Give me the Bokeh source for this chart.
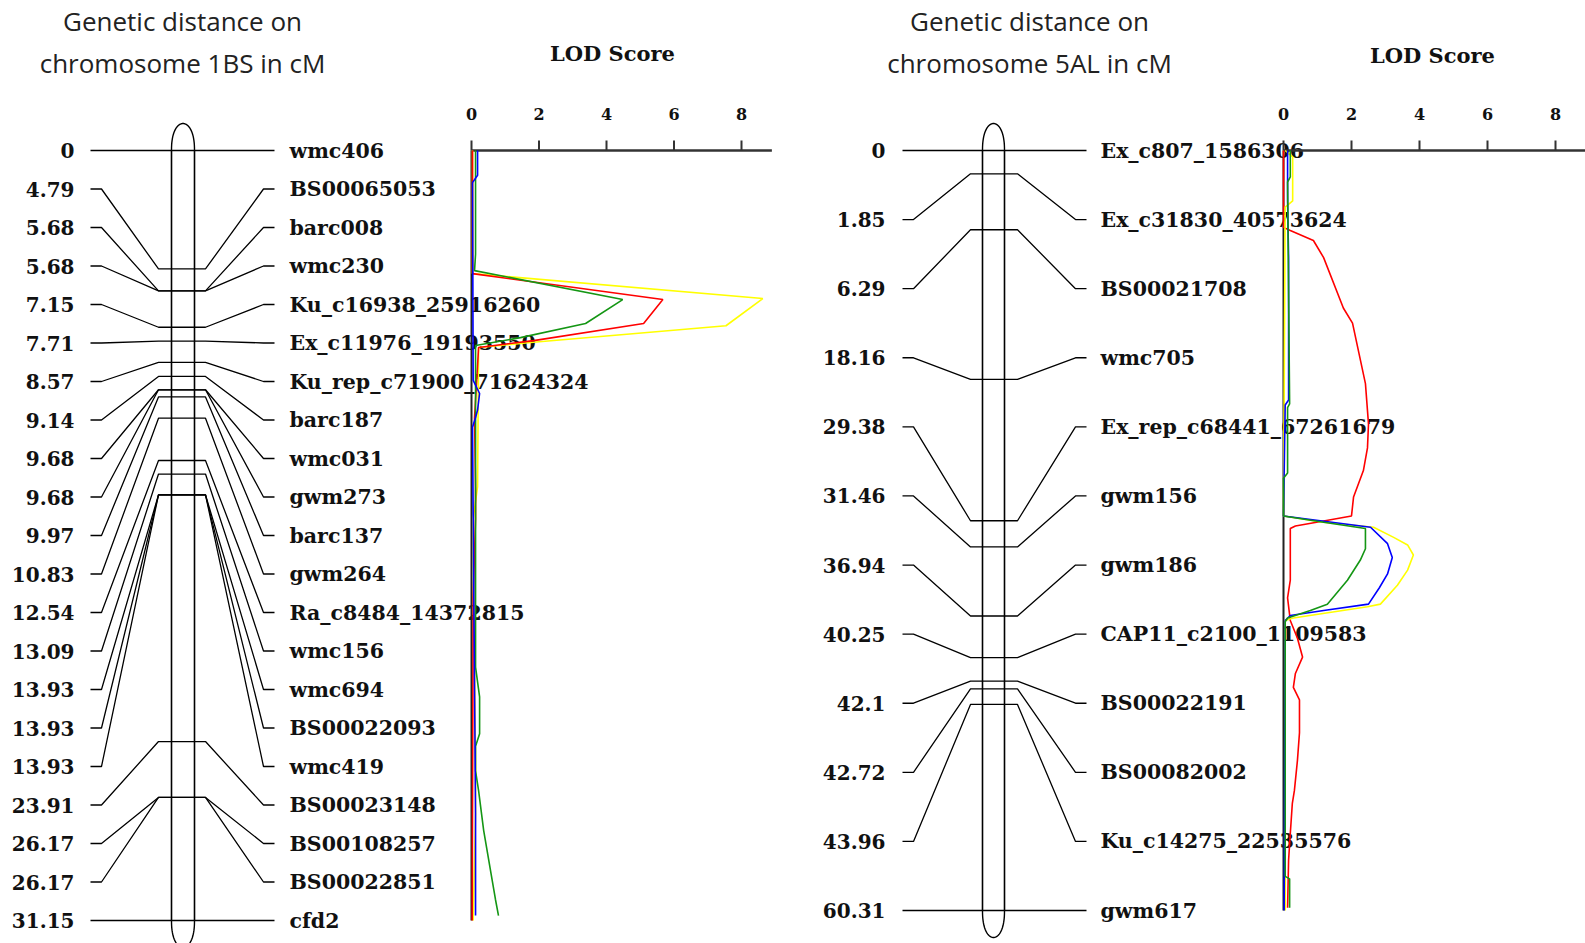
import numpy as np
from bokeh.plotting import figure
from bokeh.models import Range1d
from bokeh.core.properties import value
from bokeh.embed import file_html
from bokeh.resources import INLINE

# ---------------- data ----------------
L_pos = [0, 4.79, 5.68, 5.68, 7.15, 7.71, 8.57, 9.14, 9.68, 9.68, 9.97, 10.83,
         12.54, 13.09, 13.93, 13.93, 13.93, 23.91, 26.17, 26.17, 31.15]
L_names = ["wmc406", "BS00065053", "barc008", "wmc230", "Ku_c16938_25916260",
           "Ex_c11976_19193550", "Ku_rep_c71900_71624324", "barc187", "wmc031",
           "gwm273", "barc137", "gwm264", "Ra_c8484_14372815", "wmc156", "wmc694",
           "BS00022093", "wmc419", "BS00023148", "BS00108257", "BS00022851", "cfd2"]
R_pos = [0, 1.85, 6.29, 18.16, 29.38, 31.46, 36.94, 40.25, 42.1, 42.72, 43.96, 60.31]
R_names = ["Ex_c807_1586306", "Ex_c31830_40573624", "BS00021708", "wmc705",
           "Ex_rep_c68441_67261679", "gwm156", "gwm186", "CAP11_c2100_1109583",
           "BS00022191", "BS00082002", "Ku_c14275_22535576", "gwm617"]
lod_ticks = [0, 2, 4, 6, 8]

# LOD profiles, chromosome 1BS (cM, LOD)
L_yel_cm = [0.0, 4.7, 4.98, 5.99, 7.09, 7.77, 7.97, 13.6, 14.9, 25.1, 26.8, 31.15]
L_yel_lod = [0.03, 0.03, 0.03, 8.63, 7.54, 1.75, 0.21, 0.18, 0.05, 0.12, 0.12, 0.05]
L_red_cm = [0.0, 4.98, 6.03, 7.0, 7.69, 7.97, 10.8, 13.6, 14.9, 18.1, 31.15]
L_red_lod = [0.03, 0.03, 5.67, 5.1, 1.84, 0.21, 0.09, 0.12, 0.12, 0.05, 0.02]
L_grn_cm = [0.0, 4.2, 4.86, 6.03, 7.0, 7.57, 7.89, 20.9, 22.1, 23.6, 24.1, 25.1,
            25.9, 27.5, 29.1, 30.3, 30.95]
L_grn_lod = [0.12, 0.12, 0.09, 4.48, 3.38, 1.45, 0.12, 0.12, 0.24, 0.24, 0.12, 0.12,
             0.21, 0.36, 0.56, 0.71, 0.8]
L_blu_cm = [0.0, 1.0, 1.3, 9.3, 9.83, 10.5, 10.8, 11.2, 26.8, 30.95]
L_blu_lod = [0.18, 0.18, 0.03, 0.05, 0.24, 0.18, 0.12, 0.03, 0.12, 0.12]

# LOD profiles, chromosome 5AL (cM, LOD)
R_red_cm = [0.0, 6.1, 6.35, 7.14, 8.5, 12.5, 13.7, 18.5, 21.7, 23.6, 25.4, 27.5,
            29.0, 29.4, 29.8, 30.0, 34.1, 35.5, 37.3, 38.7, 40.2, 41.5, 42.6, 43.6,
            46.2, 48.4, 50.8, 51.8, 54.2, 56.3, 60.1]
R_red_lod = [0.0, 0.0, 0.2, 0.88, 1.18, 1.76, 2.03, 2.41, 2.5, 2.47, 2.35, 2.06,
             2.0, 1.18, 0.35, 0.2, 0.2, 0.12, 0.2, 0.41, 0.56, 0.35, 0.29, 0.47,
             0.47, 0.41, 0.32, 0.26, 0.2, 0.15, 0.12]
R_yel_cm = [0.0, 0.5, 4.0, 4.5, 29.0, 29.5, 29.9, 30.7, 31.3, 32.1, 33.3, 34.5,
            36.0, 36.2, 37.1, 37.3, 60.31]
R_yel_lod = [0.05, 0.27, 0.27, 0.05, 0.0, 1.18, 2.65, 3.24, 3.65, 3.82, 3.65, 3.35,
             2.85, 2.47, 0.29, 0.05, 0.05]
R_blu_cm = [0.0, 4.0, 8.5, 19.8, 20.2, 29.0, 29.9, 31.2, 32.3, 33.6, 34.7, 36.0,
            36.5, 36.9, 37.3, 60.31]
R_blu_lod = [0.12, 0.12, 0.15, 0.15, 0.05, 0.0, 2.56, 3.06, 3.2, 3.06, 2.82, 2.5,
             1.18, 0.2, 0.05, 0.02]
R_grn_cm = [0.0, 2.1, 2.5, 20.1, 20.4, 25.6, 26.0, 29.0, 29.5, 30.0, 31.6, 32.5,
            34.1, 36.0, 36.5, 37.1, 37.4, 57.6, 57.8, 60.1]
R_grn_lod = [0.2, 0.2, 0.12, 0.18, 0.12, 0.12, 0.0, 0.0, 1.18, 2.41, 2.41, 2.26,
             1.88, 1.29, 0.79, 0.12, 0.05, 0.05, 0.18, 0.18]

# ---------------- layout / style ----------------
W, H = 1585, 943
SERIF = value("DejaVu Serif")
SANS = value("Open Sans")
COL = {"yel": "#FFFF00", "red": "#FF0000", "grn": "#149614", "blu": "#0000FF"}

panels = [
    dict(name="1", pos=L_pos, names=L_names, title2="chromosome 1BS in cM",
         top=150, bot=920, lod0=471, lod8=741, tcx=182, lodx=612, lody=53,
         dist_x=74, xs=[90, 101, 158, 205, 263, 274], walls=[171, 194], name_x=289,
         series=[(L_yel_cm, L_yel_lod, "yel"), (L_red_cm, L_red_lod, "red"),
                 (L_grn_cm, L_grn_lod, "grn"), (L_blu_cm, L_blu_lod, "blu")]),
    dict(name="2", pos=R_pos, names=R_names, title2="chromosome 5AL in cM",
         top=150, bot=910, lod0=1283, lod8=1555, tcx=1029, lodx=1432, lody=55,
         dist_x=885, xs=[902, 913, 970, 1017, 1075, 1086], walls=[982, 1004], name_x=1100,
         series=[(R_red_cm, R_red_lod, "red"), (R_yel_cm, R_yel_lod, "yel"),
                 (R_blu_cm, R_blu_lod, "blu"), (R_grn_cm, R_grn_lod, "grn")]),
]

p = figure(width=W, height=H, x_range=Range1d(0, W), y_range=Range1d(H, 0),
           output_backend="svg", toolbar_location=None, min_border=0,
           x_axis_location=None, y_axis_location=None)
p.outline_line_color = None
p.background_fill_color = "white"
p.xgrid.grid_line_color = None
p.ygrid.grid_line_color = None

for pn in panels:
    cmr, lr = "cm" + pn["name"], "lod" + pn["name"]
    mx = max(pn["pos"])
    ppc = (pn["bot"] - pn["top"]) / mx
    p.extra_y_ranges[cmr] = Range1d(start=(H - pn["top"]) / ppc, end=-pn["top"] / ppc)
    ppl = (pn["lod8"] - pn["lod0"]) / 8.0
    p.extra_x_ranges[lr] = Range1d(start=-pn["lod0"] / ppl, end=(W - pn["lod0"]) / ppl)

    n = len(pn["pos"])
    label_cm = list(np.linspace(0, mx, n))

    # titles
    p.text(x=[pn["tcx"], pn["tcx"]], y=[20, 62], text=["Genetic distance on", pn["title2"]],
           text_align="center", text_baseline="middle", text_font=SANS,
           text_font_size="26px", text_color="#222222")
    p.text(x=[pn["lodx"]], y=[pn["lody"]], text=["LOD Score"], text_align="center",
           text_baseline="middle", text_font=SERIF, text_font_style="bold",
           text_font_size="21px", text_color="#111111")

    # chromosome outline
    wl, wr = pn["walls"]
    cx, hw = (wl + wr) / 2.0, (wr - wl) / 2.0
    t = np.linspace(-np.pi / 2, np.pi / 2, 41)
    capx = cx + hw * np.sin(t)
    p.line(x=capx, y=pn["top"] - 27 * np.cos(t) ** 0.85, line_color="black", line_width=1.4)
    p.line(x=capx, y=pn["bot"] + 27 * np.cos(t) ** 0.85, line_color="black", line_width=1.4)
    p.segment(x0=[wl, wr], x1=[wl, wr], y0=[0, 0], y1=[mx, mx], y_range_name=cmr,
              line_color="black", line_width=1.6)

    # connectors
    x0, x1, x2, x3, x4, x5 = pn["xs"]
    xs, ys = [], []
    for lc, cm in zip(label_cm, pn["pos"]):
        xs.append([x0, x1, x2, x3, x4, x5])
        ys.append([lc, lc, cm, cm, lc, lc])
    p.multi_line(xs=xs, ys=ys, y_range_name=cmr, line_color="black", line_width=1.3)

    # texts
    p.text(x=[pn["dist_x"]] * n, y=label_cm, text=[f"{v:g}" for v in pn["pos"]],
           y_range_name=cmr, text_align="right", text_baseline="middle",
           text_font=SERIF, text_font_style="bold", text_font_size="20px",
           text_color="#111111")
    p.text(x=[pn["name_x"]] * n, y=label_cm, text=pn["names"], y_range_name=cmr,
           text_align="left", text_baseline="middle", text_font=SERIF,
           text_font_style="bold", text_font_size="20.5px", text_color="#111111")

    # LOD axis
    p.line(x=[0, 0], y=[0, mx], x_range_name=lr, y_range_name=cmr,
           line_color="#222222", line_width=2)
    p.line(x=[0, 8.9], y=[pn["top"], pn["top"]], x_range_name=lr,
           line_color="#333333", line_width=2.5)
    p.segment(x0=lod_ticks, x1=lod_ticks, y0=[pn["top"]] * 5, y1=[pn["top"] - 10] * 5,
              x_range_name=lr, line_color="#333333", line_width=2)
    p.text(x=lod_ticks, y=[113] * 5, text=[str(v) for v in lod_ticks], x_range_name=lr,
           text_align="center", text_baseline="middle", text_font=SERIF,
           text_font_style="bold", text_font_size="16px", text_color="#111111")

    # LOD profiles
    for cms, lods, c in pn["series"]:
        p.line(x=lods, y=cms, x_range_name=lr, y_range_name=cmr,
               line_color=COL[c], line_width=1.6)

open("out.html", "w").write(file_html(p, INLINE))
